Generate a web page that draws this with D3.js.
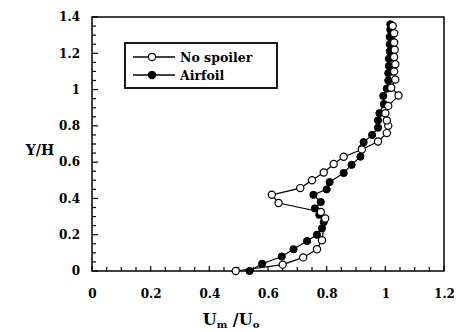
<!DOCTYPE html>
<html><head><meta charset="utf-8">
<script src="https://cdn.jsdelivr.net/npm/d3@7"></script>
<style>body{margin:0;background:#fff}svg{display:block}</style>
</head><body>
<script>
const xTicks = [0, 0.2, 0.4, 0.6, 0.8, 1, 1.2];
const yTicks = [0, 0.2, 0.4, 0.6, 0.8, 1, 1.2, 1.4];
const seriesNames = ["No spoiler", "Airfoil"];
// No spoiler (open circles): [U/Uo, Y/H]
const noSpoilerX = [0.49,0.65,0.72,0.767,0.784,0.795,0.78,0.636,0.613,0.71,0.75,0.79,0.824,0.858,0.92,0.975,1.005,1.01,1.005,1.0,1.01,1.045,1.02,1.034,1.03,1.034,1.03,1.032,1.03,1.03,1.025];
const noSpoilerY = [0.0,0.035,0.075,0.12,0.17,0.29,0.325,0.375,0.42,0.457,0.50,0.543,0.59,0.63,0.67,0.714,0.76,0.80,0.83,0.87,0.91,0.967,1.01,1.055,1.10,1.14,1.18,1.22,1.26,1.31,1.35];
// Airfoil (filled circles)
const airfoilX = [0.537,0.58,0.647,0.687,0.733,0.767,0.784,0.79,0.775,0.76,0.78,0.755,0.80,0.81,0.858,0.885,0.915,0.92,0.926,0.955,0.975,0.975,0.98,0.995,0.993,1.005,1.01,1.01,1.012,1.012,1.015,1.015,1.015,1.017,1.017];
const airfoilY = [0.0,0.04,0.08,0.12,0.165,0.20,0.235,0.27,0.31,0.345,0.38,0.42,0.45,0.49,0.54,0.585,0.63,0.675,0.71,0.75,0.79,0.83,0.87,0.92,0.965,1.005,1.05,1.09,1.13,1.17,1.21,1.25,1.29,1.33,1.36];

const W = 461, H = 332;
const m = {left: 92, right: 444, top: 17, bottom: 271};
const svg = d3.select("body").append("svg").attr("width", W).attr("height", H);
svg.append("rect").attr("width", W).attr("height", H).attr("fill", "#fff");

const x = d3.scaleLinear().domain([0, 1.2]).range([m.left, m.right]);
const y = d3.scaleLinear().domain([0, 1.4]).range([m.bottom, m.top]);
const font = "'DejaVu Serif', 'Liberation Serif', serif";

// minor ticks (inward)
const xMinor = d3.range(0, 1.2001, 0.05);
const yMinor = d3.range(0, 1.4001, 0.05);
const g = svg.append("g").attr("stroke", "#000");
g.selectAll(".xm").data(xMinor).join("line")
  .attr("x1", d => x(d)).attr("x2", d => x(d))
  .attr("y1", m.bottom).attr("y2", (d, i) => m.bottom - (i % 4 === 0 ? 5 : 4))
  .attr("stroke-width", 1.2);
g.selectAll(".ym").data(yMinor).join("line")
  .attr("y1", d => y(d)).attr("y2", d => y(d))
  .attr("x1", m.left).attr("x2", (d, i) => m.left + (i % 4 === 0 ? 6 : 4))
  .attr("stroke-width", 1.2);

// frame
svg.append("rect").attr("x", m.left).attr("y", m.top)
  .attr("width", m.right - m.left).attr("height", m.bottom - m.top)
  .attr("fill", "none").attr("stroke", "#000").attr("stroke-width", 1.5);

// tick labels via axes
const xAxis = svg.append("g").attr("transform", `translate(0,${m.bottom})`)
  .call(d3.axisBottom(x).tickValues(xTicks).tickSize(0).tickPadding(18).tickFormat(d => String(d)));
const yAxis = svg.append("g").attr("transform", `translate(${m.left},0)`)
  .call(d3.axisLeft(y).tickValues(yTicks).tickSize(0).tickPadding(12).tickFormat(d => String(d)));
[xAxis, yAxis].forEach(a => {
  a.select(".domain").remove();
  a.selectAll("text").attr("font-family", font).attr("font-weight", "bold")
    .attr("font-size", 12).attr("fill", "#000");
});

// axis titles
svg.append("text").attr("x", 40).attr("y", 155).attr("text-anchor", "middle")
  .attr("font-family", font).attr("font-weight", "bold").attr("font-size", 14).text("Y/H");
const xt = svg.append("text").attr("x", 231).attr("y", 325).attr("text-anchor", "middle")
  .attr("font-family", font).attr("font-weight", "bold").attr("font-size", 16);
xt.append("tspan").text("U");
xt.append("tspan").attr("font-size", 10).attr("dy", 3).text("m");
xt.append("tspan").attr("dy", -3).text(" /U");
xt.append("tspan").attr("font-size", 10).attr("dy", 3).text("o");

// series
const line = d3.line().x(d => x(d[0])).y(d => y(d[1]));
const ns = noSpoilerX.map((v, i) => [v, noSpoilerY[i]]);
const af = airfoilX.map((v, i) => [v, airfoilY[i]]);
svg.append("path").datum(af).attr("d", line).attr("fill", "none").attr("stroke", "#000").attr("stroke-width", 1.2);
svg.append("path").datum(ns).attr("d", line).attr("fill", "none").attr("stroke", "#000").attr("stroke-width", 1.2);
svg.selectAll(".af").data(af).join("circle")
  .attr("cx", d => x(d[0])).attr("cy", d => y(d[1])).attr("r", 3.6)
  .attr("fill", "#000").attr("stroke", "#000").attr("stroke-width", 1);
svg.selectAll(".ns").data(ns).join("circle")
  .attr("cx", d => x(d[0])).attr("cy", d => y(d[1])).attr("r", 3.6)
  .attr("fill", "#fff").attr("stroke", "#000").attr("stroke-width", 1.2);

// legend
const lg = svg.append("g");
lg.append("rect").attr("x", 125).attr("y", 43).attr("width", 152).attr("height", 45)
  .attr("fill", "#fff").attr("stroke", "#000").attr("stroke-width", 1.8);
seriesNames.forEach((name, i) => {
  const yy = 57 + i * 18;
  lg.append("line").attr("x1", 133).attr("x2", 175).attr("y1", yy).attr("y2", yy)
    .attr("stroke", "#000").attr("stroke-width", 1.5);
  lg.append("circle").attr("cx", 152).attr("cy", yy).attr("r", 3.6)
    .attr("fill", i === 0 ? "#fff" : "#000").attr("stroke", "#000").attr("stroke-width", 1.2);
  lg.append("text").attr("x", 180).attr("y", yy + 4.5)
    .attr("font-family", font).attr("font-weight", "bold").attr("font-size", 12.5).text(name);
});
</script>
</body></html>
